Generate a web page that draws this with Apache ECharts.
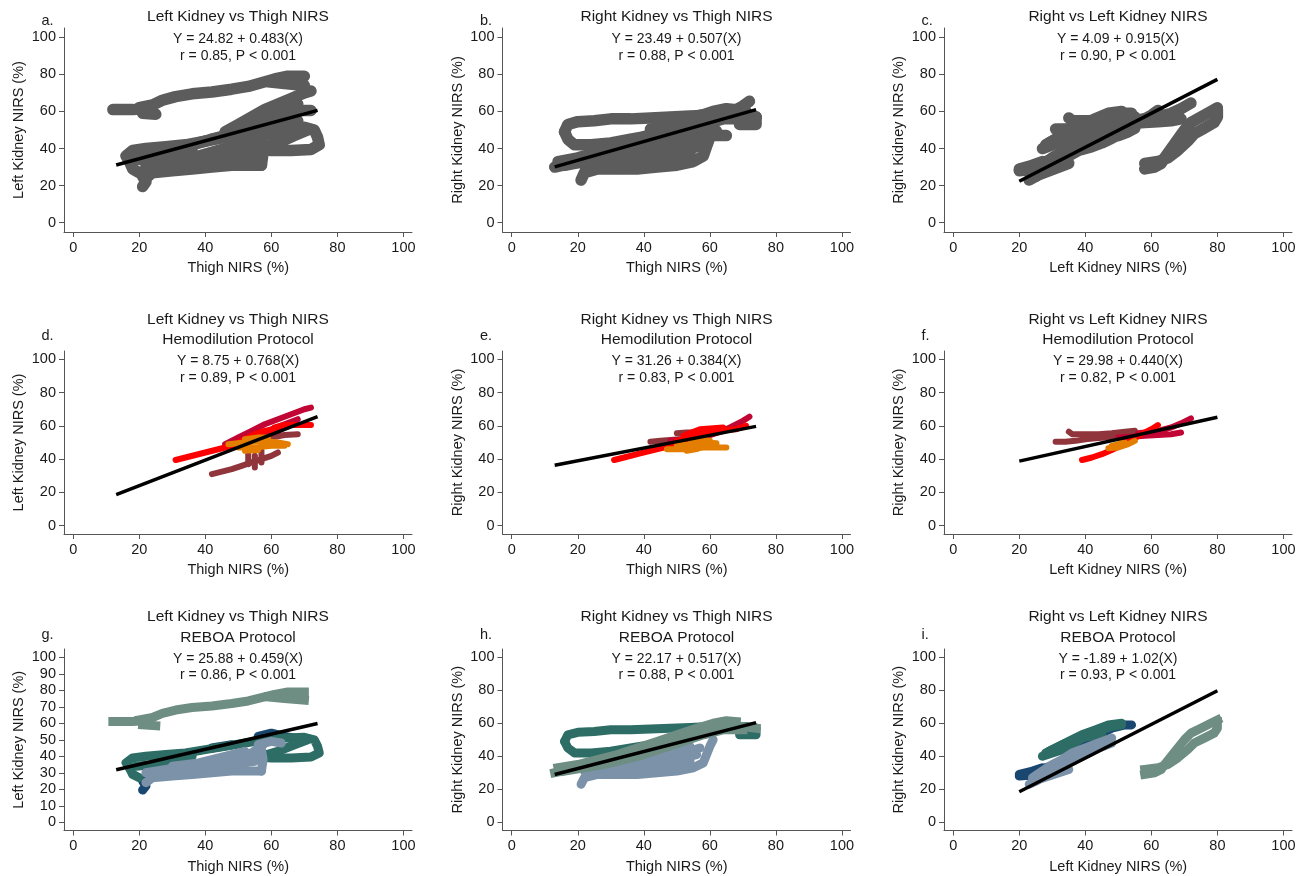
<!DOCTYPE html>
<html>
<head>
<meta charset="utf-8">
<script src="https://cdn.jsdelivr.net/npm/echarts@6/dist/echarts.min.js"></script>
<style>
html,body{margin:0;padding:0;background:#fff;}
#chart{width:1309px;height:876px;}
</style>
</head>
<body>
<div id="chart"></div>
<script>
// ---------------- DATA ----------------
const titles = ["Left Kidney vs Thigh NIRS", "Right Kidney vs Thigh NIRS", "Right vs Left Kidney NIRS"];
const subtitles = ["", "Hemodilution Protocol", "REBOA Protocol"];
const letters = ["a.", "b.", "c.", "d.", "e.", "f.", "g.", "h.", "i."];
const equations = ["Y = 24.82 + 0.483(X)", "Y = 23.49 + 0.507(X)", "Y = 4.09 + 0.915(X)",
                   "Y = 8.75 + 0.768(X)", "Y = 31.26 + 0.384(X)", "Y = 29.98 + 0.440(X)",
                   "Y = 25.88 + 0.459(X)", "Y = 22.17 + 0.517(X)", "Y = -1.89 + 1.02(X)"];
const stats = ["r = 0.85, P < 0.001", "r = 0.88, P < 0.001", "r = 0.90, P < 0.001",
               "r = 0.89, P < 0.001", "r = 0.83, P < 0.001", "r = 0.82, P < 0.001",
               "r = 0.86, P < 0.001", "r = 0.88, P < 0.001", "r = 0.93, P < 0.001"];
const xNames = ["Thigh NIRS (%)", "Thigh NIRS (%)", "Left Kidney NIRS (%)"];
const yNames = ["Left Kidney NIRS (%)", "Right Kidney NIRS (%)", "Right Kidney NIRS (%)"];
const ticks20 = [0, 20, 40, 60, 80, 100];
const ticks10 = [0, 10, 20, 30, 40, 50, 60, 70, 80, 90, 100];

// Regression line end points
const regLines = [
  [[13, 31.1], [74, 60.6]], [[13, 30.1], [74, 61.0]], [[20, 22.4], [80, 77.3]],
  [[13, 18.7], [74, 65.6]], [[13, 36.3], [74, 59.7]], [[20, 38.8], [80, 65.2]],
  [[13, 31.8], [74, 59.8]], [[13, 28.9], [74, 60.4]], [[20, 18.5], [80, 79.7]]
];

// ---- Hemodilution protocol, Left kidney vs Thigh (panel d) ----
const d_brown = [
  [[42,31],[45,32.5],[48,34],[51,36],[54,38],[57,40],[60,42],[62,44]],
  [[53,37],[53,43]], [[55,35],[55,42]], [[57,38],[57,45]],
  [[60,53],[64,54.5],[68,55]]
];
const d_crimson = [
  [[46,49],[50,53],[54,57],[58,61],[62,64],[66,67],[70,70],[72,71]],
  [[47,47],[51,50],[55,53],[59,55],[63,58]],
  [[48,49],[52,52],[56,55],[60,58],[64,61],[68,64]]
];
const d_red = [
  [[31,39.5],[34,41],[37,42.5],[40,44],[43,45.5],[46,47],[49,49],[52,52],[55,55],[58,57],[61,58]],
  [[61,59],[64,60.5],[68,60.5],[72,60.5]]
];
const d_orange = [
  [[47,49],[52,50],[57,51],[62,50],[65,49]],
  [[50,47],[55,47],[60,48],[64,48]],
  [[52,52],[56,53],[59,53]],
  [[52,45],[56,45.5]]
];
// ---- Hemodilution, Right kidney vs Thigh (panel e) ----
const e_brown = [
  [[42,50.5],[45,51],[48,51.5],[51,52]],
  [[50,55.5],[53,56],[55,56]]
];
const e_crimson = [
  [[48,51],[52,52],[56,53],[60,54.5],[64,57],[67,60],[70,63],[72,65.5]],
  [[60,56],[65,58],[69,60]]
];
const e_red = [
  [[31,39.5],[34,41],[38,43],[42,45],[46,47],[50,50],[54,53]],
  [[52,54],[56,56],[60,57],[64,57.5],[68,58],[71,60]],
  [[53,55],[57,58],[61,58.5],[64,59]],
  [[50,51],[55,53.5],[60,55]]
];
const e_orange = [
  [[47,46],[50,46],[54,46],[58,47],[62,47],[65,47]],
  [[50,48],[54,49],[58,50],[62,49.5]],
  [[53,45],[56,46]],
  [[55,51],[58,51.5],[60,51]]
];
// ---- Hemodilution, Right vs Left kidney (panel f) ----
const f_brown = [
  [[31,50.5],[34,50.5],[37,51],[40,52],[43,52.5],[46,53],[49,53.5],[52,54],[55,55]],
  [[35,56.5],[36,55],[40,55],[44,55],[48,55.5],[52,56.5],[55,57]]
];
const f_crimson = [
  [[50,53],[54,53.5],[58,54],[62,54.5],[66,55],[69,56]],
  [[62,57],[66,59],[69,61.5],[72,64.5]],
  [[56,55.5],[60,56.5],[64,57]]
];
const f_red = [
  [[39,39.5],[42,41],[45,43],[48,45.5],[51,48.5],[54,51.5],[57,55],[60,58],[62,60.5]]
];
const f_orange = [
  [[47,46.5],[50,47],[53,49],[55,51]],
  [[48,48],[52,50]]
];

// ---- REBOA protocol, Left kidney vs Thigh (panel g) ----
const g_navy = [
  [[21,19.5],[22,22],[21,25],[23,27]],
  [[26,37],[30,39]],
  [[42,45],[48,47]],
  [[56,52],[60,54],[64,52],[67,51]]
];
const g_teal = [
  [[17,33],[16,36],[18,39],[22,40],[28,41],[34,42],[40,44],[46,46],[52,48],[58,50],[64,51],[70,51.5],[73,50],[74,46],[74.5,42],[72,39.5],[66,39],[60,39],[56,39.5]],
  [[56,39.5],[62,43],[67,47],[71,50]],
  [[17,33],[18,29],[20,27]],
  [[19,34],[25,35],[30,36]],
  [[30,39],[36,40]]
];
const g_steel = [
  [[22,24],[24,27],[30,28],[36,29],[42,30],[48,31],[54,31],[57,31]],
  [[22,30],[28,32],[34,34],[40,36],[46,38],[50,40],[54,42],[57,46],[58,48]],
  [[24,29],[32,31],[40,33],[48,35],[55,37]],
  [[26,31],[34,32],[42,34],[50,36],[56,40]],
  [[30,34],[38,36],[46,40],[52,43]],
  [[57,31],[57.5,38],[57,44]],
  [[56,47],[60,49],[63,48]]
];
const g_sage = [
  [[12,61],[18,61],[21,61.5]],
  [[21,59],[25,58.5]],
  [[20,62],[24,63.5],[27,66],[31,68],[36,69.5],[42,70.5],[48,72],[53,73.5],[57,75.5],[61,77.5],[65,79],[70,79]],
  [[59,76],[64,75],[70,74]]
];
// ---- REBOA, Right kidney vs Thigh (panel h) ----
const h_navy = [
  [[18,33],[25,36],[32,39],[40,44],[48,48],[55,52],[60,54]]
];
const h_teal = [
  [[16,49],[17,53],[20,54.5],[25,55],[30,56],[36,56],[42,56.5],[48,57],[54,57.5],[60,58],[66,58],[71,58],[74,57]],
  [[16,49],[17,45],[19,42],[24,42],[30,43],[36,45],[42,47],[48,49],[54,52],[60,54]],
  [[69,53],[74,53],[74,57]]
];
const h_steel = [
  [[21,23],[22,27],[26,29],[32,29],[38,29],[44,30],[50,31],[55,33],[58,36],[59,41],[60,46],[61,50]],
  [[22,31],[28,33],[34,35],[40,37],[46,39],[52,42],[57,45]],
  [[24,30],[32,31],[40,32],[48,34],[54,37]],
  [[26,33],[34,34],[42,36],[50,38],[56,41]],
  [[30,36],[38,39],[46,42],[54,46]]
];
const h_sage = [
  [[13,30],[18,32],[24,34],[30,37],[36,40],[42,44],[48,48],[54,52],[60,56],[66,58.5],[70,58],[74,57]],
  [[14,33],[20,35],[26,38],[32,41],[38,45],[44,49],[50,53],[56,57],[61,60],[65,61.5],[68,61]],
  [[16,31],[22,33],[28,35],[34,38],[40,41],[46,45],[52,49],[58,53],[64,56],[70,56]]
];
// ---- REBOA, Right vs Left kidney (panel i) ----
const i_navy = [
  [[20,28],[23,28.5],[26,30],[28,33],[31,35],[34,39],[37,44],[40,48],[44,53],[48,57],[52,59],[54,59]],
  [[20,29],[24,31],[27,33]]
];
const i_teal = [
  [[27,40],[30,42],[33,44],[36,47],[39,51],[42,54],[45,56],[48,58],[51,59]],
  [[29,43],[33,47],[37,50],[41,52],[45,53]],
  [[28,42],[31,45],[35,49],[39,53],[43,56],[47,59],[51,60]]
];
const i_steel = [
  [[23,23],[26,26],[29,28],[32,30],[35,32]],
  [[24,27],[27,31],[30,35],[33,38],[36,42],[40,45],[44,48],[48,51]],
  [[28,29],[32,33],[36,37],[40,41],[44,45],[48,48]],
  [[25,25],[28,29],[31,32],[34,35]]
];
const i_sage = [
  [[58,29],[61,30],[63,32],[64,35],[66,40],[68,45],[70,50],[72,54],[75,57],[78,60],[80,62]],
  [[58,32],[62,33],[65,35],[68,39],[71,44],[73,48],[76,51],[79,54],[80,57],[80,61]]
];

// ---------------- STYLE / LAYOUT ----------------
const FONT = '"Liberation Sans", Arial, Helvetica, sans-serif';
const TXT = '#1a1a1a';
const AX = '#555555';
const colors = {
  gray: '#5c5c5c',
  brown: '#90353b', crimson: '#c10534', red: '#ff0000', orange: '#e37e00',
  navy: '#1a476f', teal: '#2d6d66', steel: '#7b92a8', sage: '#6e8e84'
};
const colLeft = [64, 502.5, 944];
const gridW = 348;
const rowTop = [28, 351, 649];
const rowH = [204, 183, 181.5];
const XMIN = -2.8, XMAX = 102.6, YMIN = -5, YMAX = 105;

const hemo = [
  [[d_brown,'brown'],[d_crimson,'crimson'],[d_red,'red'],[d_orange,'orange']],
  [[e_brown,'brown'],[e_crimson,'crimson'],[e_red,'red'],[e_orange,'orange']],
  [[f_brown,'brown'],[f_crimson,'crimson'],[f_red,'red'],[f_orange,'orange']]
];
const reboa = [
  [[g_navy,'navy'],[g_teal,'teal'],[g_steel,'steel'],[g_sage,'sage']],
  [[h_navy,'navy'],[h_teal,'teal'],[h_steel,'steel'],[h_sage,'sage']],
  [[i_navy,'navy'],[i_teal,'teal'],[i_steel,'steel'],[i_sage,'sage']]
];

const grids = [], xAxes = [], yAxes = [], series = [], graphic = [];

function addPaths(idx, paths, color, width, cap) {
  paths.forEach(p => {
    series.push({
      type: 'line', xAxisIndex: idx, yAxisIndex: idx, data: p,
      symbol: 'none', showSymbol: false, silent: true, animation: false,
      lineStyle: { color: color, width: width, cap: cap || 'round', join: 'round' },
      z: 2
    });
  });
}

for (let r = 0; r < 3; r++) {
  for (let c = 0; c < 3; c++) {
    const idx = r * 3 + c;
    grids.push({ left: colLeft[c], top: rowTop[r], width: gridW, height: rowH[r] });
    xAxes.push({
      type: 'value', gridIndex: idx, min: XMIN, max: XMAX,
      axisLine: { show: true, onZero: false, lineStyle: { color: AX, width: 1 } },
      axisTick: { show: true, length: 5, inside: false, customValues: ticks20, lineStyle: { color: AX, width: 1 } },
      axisLabel: { customValues: ticks20, margin: 8, fontSize: 14.5, color: TXT, fontFamily: FONT },
      splitLine: { show: false }
    });
    const yt = (idx === 6) ? ticks10 : ticks20;
    yAxes.push({
      type: 'value', gridIndex: idx, min: YMIN, max: YMAX,
      axisLine: { show: true, onZero: false, lineStyle: { color: AX, width: 1 } },
      axisTick: { show: true, length: 5, inside: false, customValues: yt, lineStyle: { color: AX, width: 1 } },
      axisLabel: { customValues: yt, margin: 8, fontSize: 14.5, color: TXT, fontFamily: FONT },
      splitLine: { show: false }
    });

    if (r === 0) {
      hemo[c].forEach(s => addPaths(idx, s[0], colors.gray, 11.5));
      reboa[c].forEach(s => addPaths(idx, s[0], colors.gray, 11.5));
    } else if (r === 1) {
      hemo[c].forEach(s => addPaths(idx, s[0], colors[s[1]], 6));
    } else {
      reboa[c].forEach(s => addPaths(idx, s[0], colors[s[1]], 9, s[1] === 'sage' ? 'square' : 'round'));
    }
    series.push({
      type: 'line', xAxisIndex: idx, yAxisIndex: idx, data: regLines[idx],
      symbol: 'none', silent: true, animation: false,
      lineStyle: { color: '#000', width: 3.5, cap: 'butt' }, z: 5
    });

    const cx = colLeft[c] + gridW / 2;
    const titleY = [16.5, 320, 617][r];
    const subY = [0, 340, 637.5][r];
    const eqY = [39, 361, 659][r];
    const rY = [56, 378, 675][r];
    const letY = [21, 336, 635][r];
    const xnY = [267.5, 570, 867][r];
    const mk = (text, x, y, size, align) => ({
      type: 'text', x: x, y: y, silent: true,
      style: { text: text, fill: TXT, font: size + 'px ' + FONT, textAlign: align || 'center', textVerticalAlign: 'middle' }
    });
    graphic.push(mk(titles[c], cx, titleY, 15.5));
    if (r > 0) graphic.push(mk(subtitles[r], cx, subY, 15.5));
    graphic.push(mk(equations[idx], cx, eqY, 14));
    graphic.push(mk(stats[idx], cx, rY, 14));
    graphic.push(mk(letters[idx], colLeft[c] - 22.5, letY, 14.5, 'left'));
    graphic.push(mk(xNames[c], colLeft[c] + 9.2 + 165, xnY, 14.5));
    const yn = mk(yNames[c], colLeft[c] - 45, rowTop[r] + rowH[r] / 2, 14.5);
    yn.rotation = Math.PI / 2;
    graphic.push(yn);
  }
}

const chart = echarts.init(document.getElementById('chart'), null, { renderer: 'canvas' });
chart.setOption({
  backgroundColor: '#ffffff',
  animation: false,
  grid: grids, xAxis: xAxes, yAxis: yAxes, series: series, graphic: graphic
});
</script>
</body>
</html>
